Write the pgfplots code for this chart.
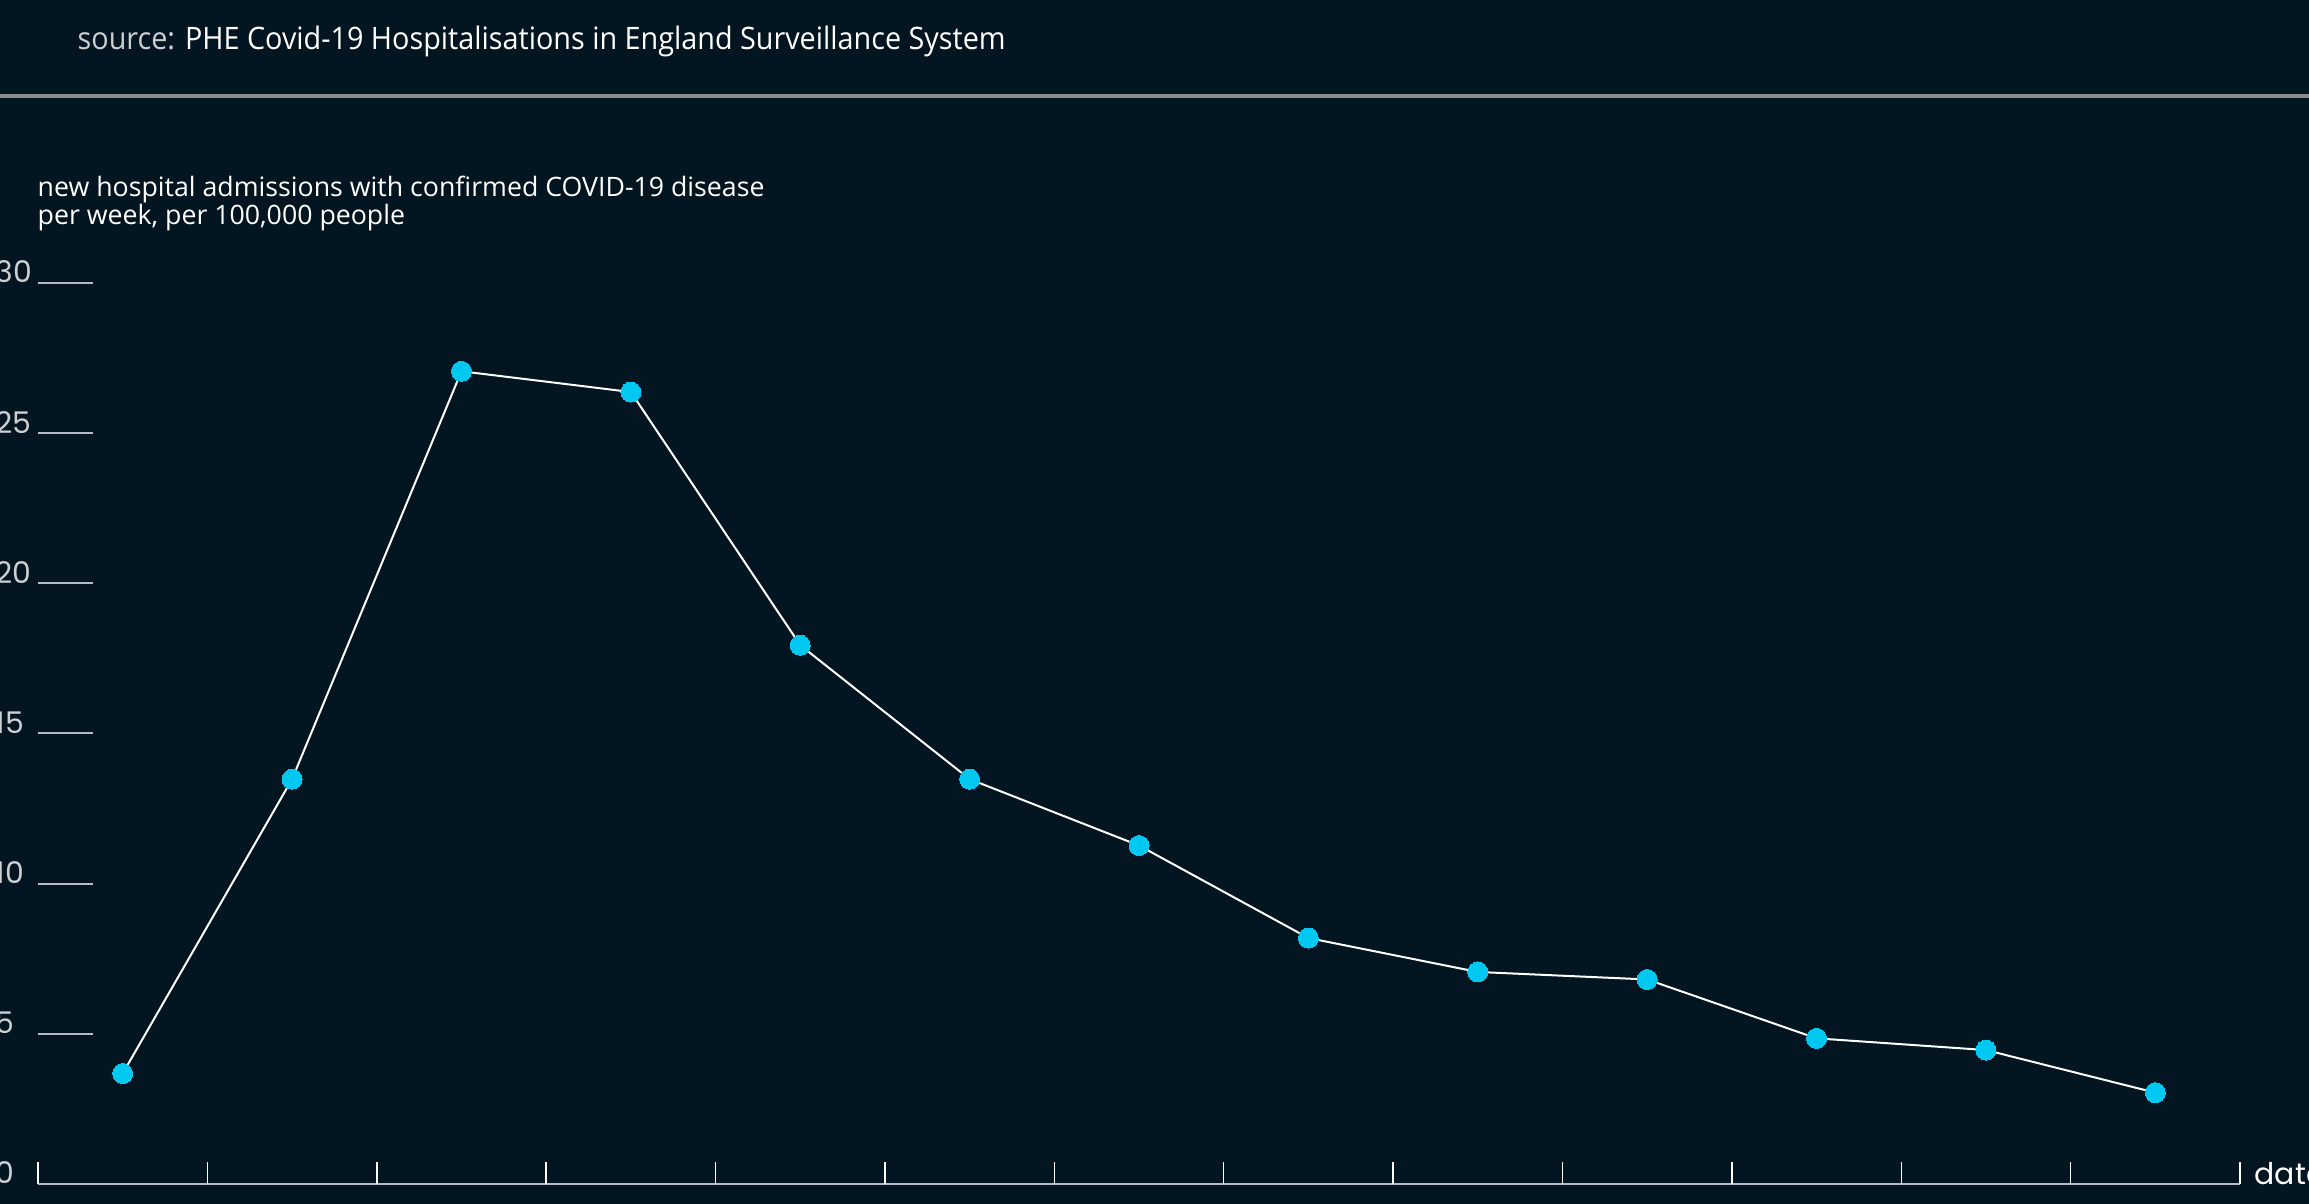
\documentclass[border=0pt]{standalone}
\usepackage{pgfplots}
\pgfplotsset{compat=1.18}
\usepackage{fontspec}
\setmainfont{Open Sans}
\newfontfamily\geo{Poppins}

\definecolor{bgA}{RGB}{2,21,32}
\definecolor{bgB}{RGB}{7,38,50}
\definecolor{dotc}{RGB}{0,200,240}
\definecolor{axc}{RGB}{180,186,190}
\definecolor{rulec}{RGB}{140,140,140}
\definecolor{srcgray}{RGB}{205,208,210}
\pgfdeclarehorizontalshading{bgshade}{100bp}{color(0bp)=(bgA); color(78bp)=(bgA); color(100bp)=(bgB)}

% weekly admissions per 100k
\pgfplotstableread{
x y
0.5 3.68
1.5 13.48
2.5 27.06
3.5 26.37
4.5 17.94
5.5 13.48
6.5 11.27
7.5 8.19
8.5 7.06
9.5 6.81
10.5 4.85
11.5 4.46
12.5 3.04
}\admissions

\begin{document}
\begin{tikzpicture}
\useasboundingbox (0,0) rectangle (230.9mm,120.4mm);
\shade[shading=bgshade] (0,0) rectangle (230.9mm,120.4mm);

% header, in pixel-like units from the top left corner
\begin{scope}[shift={(0,120.4mm)},x=0.1mm,y=-0.1mm]
  \node[anchor=base west, inner sep=0, text=white] at (77,50)
    {\scalebox{0.93}[1]{\fontsize{8.8}{10}\selectfont\color{srcgray}source: \color{white}PHE Covid-19 Hospitalisations in England Surveillance System}};
  \fill[rulec] (0,94) rectangle (2309,98);
  \node[anchor=base west, inner sep=0, text=white] at (37,197)
    {\fontsize{7.6}{9}\selectfont new hospital admissions with confirmed COVID-19 disease};
  \node[anchor=base west, inner sep=0, text=white] at (37,225)
    {\fontsize{7.6}{9}\selectfont per week, per 100,000 people};
  \node[anchor=base west, inner sep=0, text=white] at (2254,1184)
    {\geo\fontsize{8.5}{10}\selectfont date};
\end{scope}

\begin{axis}[
  at={(3.8mm,2.0mm)}, anchor=south west,
  scale only axis, width=220.2mm, height=90.1mm,
  xmin=0, xmax=13, ymin=0, ymax=30,
  separate axis lines,
  axis x line*=bottom, axis y line*=left,
  x axis line style={-, axc, line width=0.25mm},
  y axis line style={draw=none},
  xtick=\empty,
  ytick={0,5,...,30},
  tick align=inside,
  major tick length=5.5mm,
  ytick style={color=axc, line width=0.2mm},
  /pgf/number format/assume math mode=true,
  yticklabel style={font=\geo\fontsize{8.5}{10}\selectfont, text=srcgray,
    anchor=base west, inner sep=0, xshift=-4.3mm},
  clip=false,
]
  \pgfplotsinvokeforeach{0,...,13}{
    \draw[white, line width=0.15mm] (axis cs:#1,0) -- ++(0,2.2mm);
  }
  \addplot[white, line width=0.2mm, mark=*, mark size=1.0mm,
    mark options={fill=dotc, draw=dotc, line width=0pt}] table[x=x,y=y] {\admissions};
\end{axis}
\end{tikzpicture}
\end{document}
